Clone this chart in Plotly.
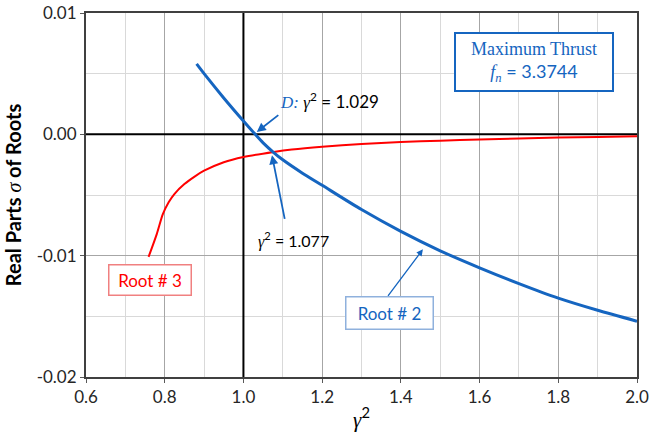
import plotly.graph_objects as go

# Root #2 (blue)
root2_x = [0.881, 0.90, 0.95, 1.00, 1.03, 1.05, 1.077, 1.10, 1.15, 1.20, 1.30, 1.40, 1.50, 1.60, 1.70, 1.80, 1.90, 2.00]
root2_y = [0.0058, 0.0050, 0.0030, 0.0011, 0.0, -0.0007, -0.0015, -0.0021, -0.0032, -0.0042, -0.0062, -0.0080,
           -0.0096, -0.0110, -0.0123, -0.0135, -0.0145, -0.0154]

# Root #3 (red)
root3_x = [0.759, 0.78, 0.795, 0.81, 0.825, 0.85, 0.875, 0.90, 0.95, 1.00, 1.077, 1.123, 1.20, 1.30, 1.40, 1.50,
           1.60, 1.70, 1.80, 1.90, 2.00]
root3_y = [-0.0101, -0.0082, -0.0066, -0.0056, -0.0049, -0.0041, -0.0035, -0.0030, -0.0023, -0.00187, -0.00145,
           -0.00125, -0.00102, -0.00080, -0.00064, -0.00052, -0.00042, -0.00034, -0.00027, -0.00021, -0.00016]

x_ticks = [0.6, 0.8, 1.0, 1.2, 1.4, 1.6, 1.8, 2.0]
x_tick_labels = ["0.6", "0.8", "1.0", "1.2", "1.4", "1.6", "1.8", "2.0"]
y_ticks = [0.01, 0.0, -0.01, -0.02]
y_tick_labels = ["0.01", "0.00", "-0.01", "-0.02"]

BLUE = "#1565C0"
RED = "#FF0000"
FONT = "Lato"
SERIF = "Liberation Serif"

fig = go.Figure()
fig.add_trace(go.Scatter(x=root3_x, y=root3_y, mode="lines", line=dict(color=RED, width=2, shape="spline", smoothing=0.7),
                         showlegend=False, hoverinfo="skip"))
fig.add_trace(go.Scatter(x=root2_x, y=root2_y, mode="lines", line=dict(color=BLUE, width=3, shape="spline", smoothing=0.7),
                         showlegend=False, hoverinfo="skip"))

# reference lines at x=1 and y=0
fig.add_shape(type="line", x0=1.0, x1=1.0, y0=-0.02, y1=0.01, xref="x", yref="y",
              line=dict(color="black", width=2), layer="between")
fig.add_shape(type="line", x0=0.6, x1=2.0, y0=0.0, y1=0.0, xref="x", yref="y",
              line=dict(color="black", width=2), layer="between")

annotations = [
    dict(x=1.738, y=0.00594, xref="x", yref="y", showarrow=False,
         text=f"<span style='font-family:{SERIF}'>Maximum Thrust</span><br>"
              f"<span style='font-family:{SERIF}'><i>f<sub>n</sub></i></span> = 3.3744",
         font=dict(family=FONT, size=18, color=BLUE), bgcolor="white",
         bordercolor=BLUE, borderwidth=2, width=154, height=54, align="center"),
    dict(x=1.088, y=0.0028, xref="x", yref="y", showarrow=False, xanchor="left",
         text=f"<span style='font-family:{SERIF};color:{BLUE}'><i>D:</i></span> "
              f"<span style='font-family:{SERIF}'><i>γ</i></span><sup>2</sup> = 1.029",
         font=dict(family=FONT, size=17, color="black")),
    dict(x=1.034, y=0.0002, xref="x", yref="y", showarrow=True, ax=23, ay=-18, text="",
         arrowhead=2, arrowsize=1, arrowwidth=1.8, arrowcolor=BLUE),
    dict(x=1.126, y=-0.00874, xref="x", yref="y", showarrow=False,
         text=f"<span style='font-family:{SERIF}'><i>γ</i></span><sup>2</sup> = 1.077",
         font=dict(family=FONT, size=16, color="black")),
    dict(x=1.0726, y=-0.00173, xref="x", yref="y", showarrow=True, ax=13, ay=65, text="",
         arrowhead=2, arrowsize=1, arrowwidth=1.8, arrowcolor=BLUE),
    dict(x=0.763, y=-0.0120, xref="x", yref="y", showarrow=False, text="Root # 3",
         font=dict(family=FONT, size=17, color=RED), bgcolor="white",
         bordercolor="#F08080", borderwidth=1.5, width=79, height=27),
    dict(x=1.456, y=-0.00948, xref="x", yref="y", showarrow=True, ax=-36, ay=48, text="",
         arrowhead=2, arrowsize=1, arrowwidth=1.3, arrowcolor=BLUE),
    dict(x=1.372, y=-0.01476, xref="x", yref="y", showarrow=False, text="Root # 2",
         font=dict(family=FONT, size=17, color=BLUE), bgcolor="white",
         bordercolor="#8FB1DD", borderwidth=1.5, width=84, height=29),
]

fig.update_layout(
    width=649, height=433,
    margin=dict(l=86, r=12, t=13, b=56),
    plot_bgcolor="white", paper_bgcolor="white",
    font=dict(family=FONT, size=17, color="black"),
    annotations=annotations,
    xaxis=dict(range=[0.6, 2.0], tickvals=x_ticks, ticktext=x_tick_labels, automargin=False,
               ticklabeloverflow="allow",
               showgrid=True, gridcolor="#A6A6A6", gridwidth=1,
               minor=dict(dtick=0.1, tick0=0.6, showgrid=True, gridcolor="#D9D9D9", gridwidth=1),
               ticks="outside", ticklen=4, tickcolor="#595959",
               showline=True, linecolor="#404040", linewidth=2, mirror=True, zeroline=False,
               title=dict(text=f"<span style='font-family:{SERIF}'><i>γ</i></span><sup>2</sup>",
                          font=dict(size=21), standoff=6),
               tickfont=dict(size=17, color="#262626")),
    yaxis=dict(range=[-0.02, 0.01], tickvals=y_ticks, ticktext=y_tick_labels, automargin=False,
               ticklabeloverflow="allow",
               showgrid=True, gridcolor="#A6A6A6", gridwidth=1,
               minor=dict(dtick=0.005, tick0=0.0, showgrid=True, gridcolor="#D9D9D9", gridwidth=1),
               ticks="outside", ticklen=4, tickcolor="#595959",
               showline=True, linecolor="#404040", linewidth=2, mirror=True, zeroline=False,
               title=dict(text=f"<b>Real Parts </b><span style='font-family:{SERIF}'><i>σ</i></span><b> of Roots</b>",
                          font=dict(size=20), standoff=10),
               tickfont=dict(size=17, color="#262626")),
)

fig.write_html("out.html")
